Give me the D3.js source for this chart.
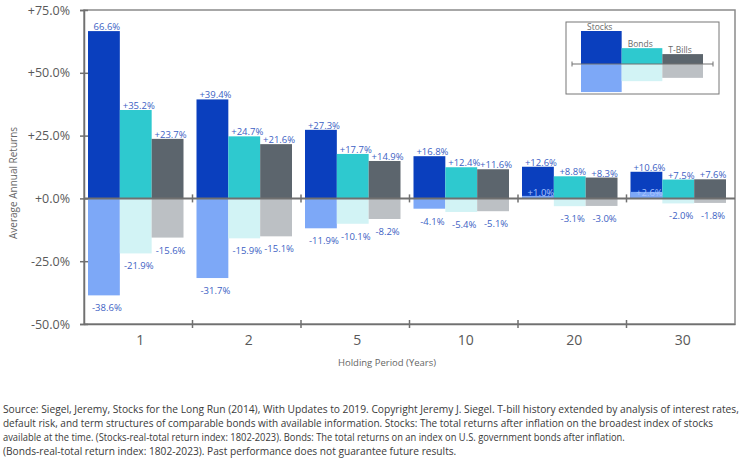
<!DOCTYPE html>
<html>
<head>
<meta charset="utf-8">
<script src="https://cdn.jsdelivr.net/npm/d3@7"></script>
<style>
  body { margin: 0; background: #fff; }
  svg { display: block; font-family: "Open Sans", sans-serif; }
</style>
</head>
<body>
<div id="chart"></div>
<script>
// holding periods (years)
var periods = ["1", "2", "5", "10", "20", "30"];
var series = ["Stocks", "Bonds", "T-Bills"];

// best and worst average annual real returns, %
var stocksHigh = [66.6, 39.4, 27.3, 16.8, 12.6, 10.6];
var stocksLow  = [-38.6, -31.7, -11.9, -4.1, 1.0, 2.6];
var bondsHigh  = [35.2, 24.7, 17.7, 12.4, 8.8, 7.5];
var bondsLow   = [-21.9, -15.9, -10.1, -5.4, -3.1, -2.0];
var billsHigh  = [23.7, 21.6, 14.9, 11.6, 8.3, 7.6];
var billsLow   = [-15.6, -15.1, -8.2, -5.1, -3.0, -1.8];

var yTicks = [-50, -25, 0, 25, 50, 75];

// mini legend chart (illustrative)
var legendHigh = [1, 0.48, 0.3];
var legendLow  = [-0.85, -0.52, -0.42];

var footLines = [
  "Source: Siegel, Jeremy, Stocks for the Long Run (2014), With Updates to 2019. Copyright Jeremy J. Siegel. T-bill history extended by analysis of interest rates,",
  "default risk, and term structures of comparable bonds with available information. Stocks: The total returns after inflation on the broadest index of stocks",
  "available at the time. (Stocks-real-total return index: 1802-2023). Bonds: The total returns on an index on U.S. government bonds after inflation.",
  "(Bonds-real-total return index: 1802-2023). Past performance does not guarantee future results."
];
var footWidths = [737, 711, 622, 454];

var darkColors  = {"Stocks": "#0a3fbe", "Bonds": "#2ec9cf", "T-Bills": "#5c656d"};
var lightColors = {"Stocks": "#7da8f7", "Bonds": "#d2f3f5", "T-Bills": "#bcc0c4"};
var labelColor = "#3d5fc4";
var axisColor = "#707070";
var textColor = "#595959";

var highs = {"Stocks": stocksHigh, "Bonds": bondsHigh, "T-Bills": billsHigh};
var lows  = {"Stocks": stocksLow, "Bonds": bondsLow, "T-Bills": billsLow};

var W = 744, H = 468;
var svg = d3.select("#chart").append("svg")
    .attr("width", W)
    .attr("height", H);

var x = d3.scaleBand().domain(periods).range([84, 735]);
var xs = d3.scaleBand().domain(series).range([4, x.bandwidth() - 9]);
var y = d3.scaleLinear().domain([-50, 75]).range([324, 10]);

// flatten into rows
var rows = [];
periods.forEach(function(p, i) {
  series.forEach(function(s) {
    rows.push({period: p, series: s, high: highs[s][i], low: lows[s][i], i: i});
  });
});

// plain hyphen for negatives, plus sign for the rest
function fmt(v) {
  return (v >= 0 ? "+" : "-") + Math.abs(v).toFixed(1) + "%";
}

// frame
svg.append("rect")
    .attr("x", x.range()[0])
    .attr("y", y.range()[1])
    .attr("width", x.range()[1] - x.range()[0])
    .attr("height", y.range()[0] - y.range()[1])
    .style("fill", "none")
    .style("stroke", "#8a8a8a")
    .style("stroke-width", 1.5);

// high bars
svg.selectAll(".hi")
    .data(rows)
    .enter().append("rect")
    .attr("class", "hi")
    .attr("x", function(d) { return x(d.period) + xs(d.series); })
    .attr("width", xs.bandwidth())
    .attr("y", function(d) { return y(d.high); })
    .attr("height", function(d) { return y(0) - y(d.high); })
    .style("fill", function(d) { return darkColors[d.series]; });

// low bars (drawn on top, so positive worst returns show over the dark bar)
svg.selectAll(".lo")
    .data(rows)
    .enter().append("rect")
    .attr("class", "lo")
    .attr("x", function(d) { return x(d.period) + xs(d.series); })
    .attr("width", xs.bandwidth())
    .attr("y", function(d) { return y(Math.max(d.low, 0)); })
    .attr("height", function(d) { return Math.abs(y(0) - y(d.low)); })
    .style("fill", function(d) { return lightColors[d.series]; });

// zero line with boundary ticks
var bounds = periods.map(function(p) { return x(p); }).concat([x.range()[1]]);
svg.append("line")
    .attr("x1", x.range()[0]).attr("x2", x.range()[1])
    .attr("y1", y(0)).attr("y2", y(0))
    .style("stroke", axisColor).style("stroke-width", 2);
svg.selectAll(".zt")
    .data(bounds.slice(1, -1))
    .enter().append("line")
    .attr("x1", function(d) { return d; }).attr("x2", function(d) { return d; })
    .attr("y1", y(0) - 4).attr("y2", y(0) + 4)
    .style("stroke", axisColor).style("stroke-width", 1.5);

// y axis
var yAxis = svg.append("g")
    .attr("transform", "translate(" + x.range()[0] + ",0)")
    .call(d3.axisLeft(y).tickValues(yTicks).tickSize(4).tickPadding(10)
        .tickFormat(function(d) { return fmt(d); }));
yAxis.select(".domain").style("stroke", axisColor).style("stroke-width", 1.5);
yAxis.selectAll(".tick line").attr("x2", -4).attr("x1", 4)
    .style("stroke", axisColor).style("stroke-width", 1.5);
yAxis.selectAll(".tick text")
    .style("font-family", "Open Sans, sans-serif")
    .style("font-size", "12.5px")
    .style("fill", textColor);

// bottom axis: labels at band centres, ticks at boundaries
var xAxis = svg.append("g")
    .attr("transform", "translate(0," + y.range()[0] + ")")
    .call(d3.axisBottom(x).tickSize(0).tickPadding(11));
xAxis.select(".domain").style("stroke", axisColor).style("stroke-width", 1.5);
xAxis.selectAll(".tick text")
    .attr("dx", 2)
    .style("font-family", "Open Sans, sans-serif")
    .style("font-size", "14px")
    .style("fill", textColor);
svg.selectAll(".bt")
    .data(bounds.slice(1, -1))
    .enter().append("line")
    .attr("x1", function(d) { return d; }).attr("x2", function(d) { return d; })
    .attr("y1", y.range()[0] - 4).attr("y2", y.range()[0] + 4)
    .style("stroke", axisColor).style("stroke-width", 1.5);

// value labels
svg.selectAll(".hl")
    .data(rows)
    .enter().append("text")
    .attr("x", function(d) { return x(d.period) + xs(d.series) + xs.bandwidth() / 2 + 3; })
    .attr("y", function(d) { return y(d.high) - 1; })
    .style("text-anchor", "middle")
    .style("font-size", "9.5px")
    .style("fill", labelColor)
    .text(function(d) { return (d.series == "Stocks" && d.i == 0) ? d.high.toFixed(1) + "%" : fmt(d.high); });

svg.selectAll(".ll")
    .data(rows)
    .enter().append("text")
    .attr("x", function(d) { return x(d.period) + xs(d.series) + xs.bandwidth() / 2 + 3; })
    .attr("y", function(d) { return d.low < 0 ? y(d.low) + 16 : y(0) - 2.5; })
    .style("text-anchor", "middle")
    .style("font-size", "9.5px")
    .style("fill", function(d) { return d.low < 0 ? labelColor : "#a9c3ff"; })
    .text(function(d) { return fmt(d.low); });

// axis titles
svg.append("text")
    .attr("transform", "translate(17,183) rotate(-90)")
    .style("text-anchor", "middle")
    .style("font-size", "10px")
    .style("fill", "#666")
    .text("Average Annual Returns");

svg.append("text")
    .attr("x", 387)
    .attr("y", 366)
    .style("text-anchor", "middle")
    .style("font-size", "9.5px")
    .style("fill", "#666")
    .text("Holding Period (Years)");

// legend: a small sketch of the chart
var lg = svg.append("g");
lg.append("rect")
    .attr("x", 566).attr("y", 22).attr("width", 153).attr("height", 72)
    .style("fill", "#fff").style("stroke", "#777").style("stroke-width", 1);
var lx = d3.scaleBand().domain(series).range([581, 703]);
var ly = d3.scaleLinear().domain([0, 1]).range([64, 31]);
lg.selectAll(".lgh")
    .data(series)
    .enter().append("rect")
    .attr("x", function(d) { return lx(d); })
    .attr("width", lx.bandwidth())
    .attr("y", function(d, i) { return ly(legendHigh[i]); })
    .attr("height", function(d, i) { return ly(0) - ly(legendHigh[i]); })
    .style("fill", function(d) { return darkColors[d]; });
lg.selectAll(".lgl")
    .data(series)
    .enter().append("rect")
    .attr("x", function(d) { return lx(d); })
    .attr("width", lx.bandwidth())
    .attr("y", ly(0))
    .attr("height", function(d, i) { return ly(legendLow[i]) - ly(0); })
    .style("fill", function(d) { return lightColors[d]; });
lg.append("line")
    .attr("x1", 572).attr("x2", 713).attr("y1", ly(0)).attr("y2", ly(0))
    .style("stroke", axisColor).style("stroke-width", 1.2);
lg.selectAll(".lgt")
    .data([572, 713])
    .enter().append("line")
    .attr("x1", function(d) { return d; }).attr("x2", function(d) { return d; })
    .attr("y1", ly(0) - 2.5).attr("y2", ly(0) + 2.5)
    .style("stroke", axisColor).style("stroke-width", 1);
lg.selectAll(".lgx")
    .data(series)
    .enter().append("text")
    .attr("x", function(d) { return lx(d) + 6; })
    .attr("y", function(d, i) { return ly(legendHigh[i]) - 1.5; })
    .style("font-size", "8.5px")
    .style("fill", "#6a6a6a")
    .text(function(d) { return d; });

// footnote: condensed by a horizontal scale so each line fits its width
svg.selectAll(".foot")
    .data(footLines)
    .enter().append("text")
    .attr("class", "foot")
    .attr("x", 0)
    .attr("y", 0)
    .style("font-family", "'Open Sans', sans-serif")
    .style("font-size", "10.5px")
    .style("fill", "#3a3a3a")
    .text(function(d) { return d; })
    .attr("transform", function(d, i) {
      var natural = this.getComputedTextLength();
      return "translate(3," + (413 + i * 14) + ") scale(" + (footWidths[i] / natural) + ",1)";
    });
</script>
</body>
</html>
